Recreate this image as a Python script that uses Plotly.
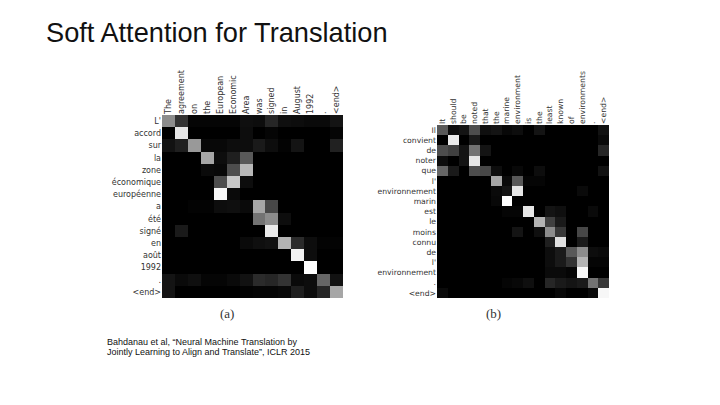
import plotly.graph_objects as go

# the page body keeps an 8px margin, so the figure is drawn 8px in from the window
PAGE_W, PAGE_H, BODY = 720, 405, 8
W, H = PAGE_W - 2 * BODY, PAGE_H - 2 * BODY

source_a = ["The", "agreement", "on", "the", "European", "Economic", "Area", "was",
            "signed", "in", "August", "1992", ".", "<end>"]
target_a = ["L'", "accord", "sur", "la", "zone", "économique", "européenne", "a", "été",
            "signé", "en", "août", "1992", ".", "<end>"]
attention_a = [
    [.55, .20, .02, .02, .02, .02, .06, .05, .15, .06, .05, .04, .04, .08],
    [0, .90, 0, 0, 0, 0, .05, 0, .02, 0, 0, 0, 0, .02],
    [.07, .12, .60, .03, .03, .05, .05, .10, .05, .01, .08, 0, 0, .13],
    [0, 0, 0, .65, .05, .12, .35, 0, 0, 0, 0, 0, 0, 0],
    [0, 0, 0, .04, .03, .30, .72, 0, 0, 0, 0, 0, 0, 0],
    [0, 0, 0, 0, .30, .78, .05, 0, 0, 0, 0, 0, 0, 0],
    [0, 0, 0, 0, .97, .04, 0, 0, 0, 0, 0, 0, 0, 0],
    [0, 0, .01, .01, .05, .06, .04, .65, .28, 0, 0, 0, 0, 0],
    [0, 0, 0, 0, 0, 0, 0, .45, .55, .05, 0, 0, 0, 0],
    [0, .10, 0, 0, 0, 0, 0, 0, .92, 0, 0, 0, 0, 0],
    [0, 0, 0, 0, 0, 0, .04, .06, .07, .70, .17, .05, .01, .01],
    [0, 0, 0, 0, 0, 0, 0, 0, 0, 0, .95, .05, 0, 0],
    [0, 0, 0, 0, 0, 0, 0, 0, 0, 0, 0, 1, 0, 0],
    [.08, .04, .06, .02, .02, .04, .07, .17, .15, .20, .04, .05, .40, .07],
    [.08, 0, 0, 0, 0, 0, .01, .02, .02, .03, .12, .05, .15, .65],
]

source_b = ["It", "should", "be", "noted", "that", "the", "marine", "environment", "is",
            "the", "least", "known", "of", "environments", ".", "<end>"]
target_b = ["Il", "convient", "de", "noter", "que", "l'", "environnement", "marin", "est",
            "le", "moins", "connu", "de", "l'", "environnement", ".", "<end>"]
attention_b = [
    [.35, .05, .08, .30, .06, .08, .03, .05, 0, .08, 0, 0, 0, 0, 0, .07],
    [0, .92, 0, .10, 0, 0, 0, 0, 0, 0, 0, 0, 0, 0, 0, .04],
    [.30, .25, .08, .45, .08, 0, 0, 0, 0, 0, 0, 0, 0, 0, 0, .15],
    [.05, 0, .08, .90, 0, 0, 0, 0, 0, 0, 0, 0, 0, 0, 0, 0],
    [.40, .10, 0, .30, .28, .05, 0, .03, 0, .05, 0, 0, 0, 0, 0, .07],
    [0, 0, 0, 0, 0, .65, .04, .35, .02, .02, 0, 0, 0, 0, 0, 0],
    [0, 0, 0, 0, 0, .04, .08, .90, 0, 0, 0, 0, 0, .04, 0, 0],
    [0, 0, 0, 0, 0, .03, 1, 0, 0, 0, 0, 0, 0, 0, 0, 0],
    [0, 0, 0, 0, 0, 0, .02, .02, .90, 0, .08, .06, 0, 0, .04, 0],
    [0, 0, 0, 0, 0, 0, 0, 0, 0, .70, .25, .10, 0, 0, 0, 0],
    [0, 0, 0, 0, 0, 0, 0, .08, 0, .06, .55, .22, 0, .28, 0, 0],
    [0, 0, 0, 0, 0, 0, 0, 0, 0, 0, .12, .88, 0, .10, 0, 0],
    [0, 0, 0, 0, 0, 0, 0, 0, 0, 0, .05, .10, .35, .55, .05, .04],
    [0, 0, 0, 0, 0, 0, 0, 0, 0, 0, .05, .10, .20, .70, .02, .02],
    [0, 0, 0, 0, 0, 0, 0, 0, 0, 0, .04, .04, .02, .97, 0, 0],
    [0, 0, 0, 0, 0, 0, .02, .03, .06, 0, .15, .10, .08, .10, .45, .22],
    [.04, 0, 0, 0, 0, 0, 0, 0, 0, 0, 0, .03, 0, 0, .04, .97],
]

GRAYS = [[0, "#000000"], [1, "#ffffff"]]


def px_x(x):
    return (x - BODY) / W


def px_y(y):
    return 1 - (y - BODY) / H


def axes(labels_x, labels_y, left, right, top, bottom, size):
    """Axis dicts for one attention panel, placed by window pixels."""
    font = dict(family="DejaVu Sans", size=size, color="#333333")
    xaxis = dict(
        domain=[px_x(left), px_x(right)], side="top", range=[-0.5, len(labels_x) - 0.5],
        tickmode="array", tickvals=list(range(len(labels_x))), ticktext=labels_x,
        tickangle=-90, showgrid=False, zeroline=False, ticks="", tickfont=font,
    )
    yaxis = dict(
        domain=[px_y(bottom), px_y(top)], range=[len(labels_y) - 0.5, -0.5],
        tickmode="array", tickvals=list(range(len(labels_y))), ticktext=labels_y,
        showgrid=False, zeroline=False, ticks="", tickfont=font,
    )
    return xaxis, yaxis


def note(text, x, y, size, family="Liberation Sans", color="#111111", anchor="left"):
    return dict(text=text, x=px_x(x), y=px_y(y), xref="paper", yref="paper",
                xanchor=anchor, yanchor="middle", showarrow=False,
                font=dict(family=family, size=size, color=color))


fig = go.Figure()
fig.add_trace(go.Heatmap(z=attention_a, colorscale=GRAYS, zmin=0, zmax=1,
                         showscale=False, xaxis="x", yaxis="y"))
fig.add_trace(go.Heatmap(z=attention_b, colorscale=GRAYS, zmin=0, zmax=1,
                         showscale=False, xaxis="x2", yaxis="y2"))

xa, ya = axes(source_a, target_a, 162, 343, 115, 298, 8)
xb, yb = axes(source_b, target_b, 437, 609, 125, 298, 7.7)
xb["anchor"] = "y2"
yb["anchor"] = "x2"

fig.update_layout(
    width=W, height=H, margin=dict(l=0, r=0, t=0, b=0),
    paper_bgcolor="white", plot_bgcolor="black", showlegend=False,
    xaxis=xa, yaxis=ya, xaxis2=xb, yaxis2=yb,
    annotations=[
        note("Soft Attention for Translation", 44, 33, 27.2),
        note("(a)", 227, 313, 13, "Liberation Serif", "#333333", "center"),
        note("(b)", 493, 313, 13, "Liberation Serif", "#333333", "center"),
        note("Bahdanau et al, “Neural Machine Translation by", 105, 342, 9),
        note("Jointly Learning to Align and Translate”, ICLR 2015", 105, 352, 9),
    ],
)

fig.write_html("out.html")
